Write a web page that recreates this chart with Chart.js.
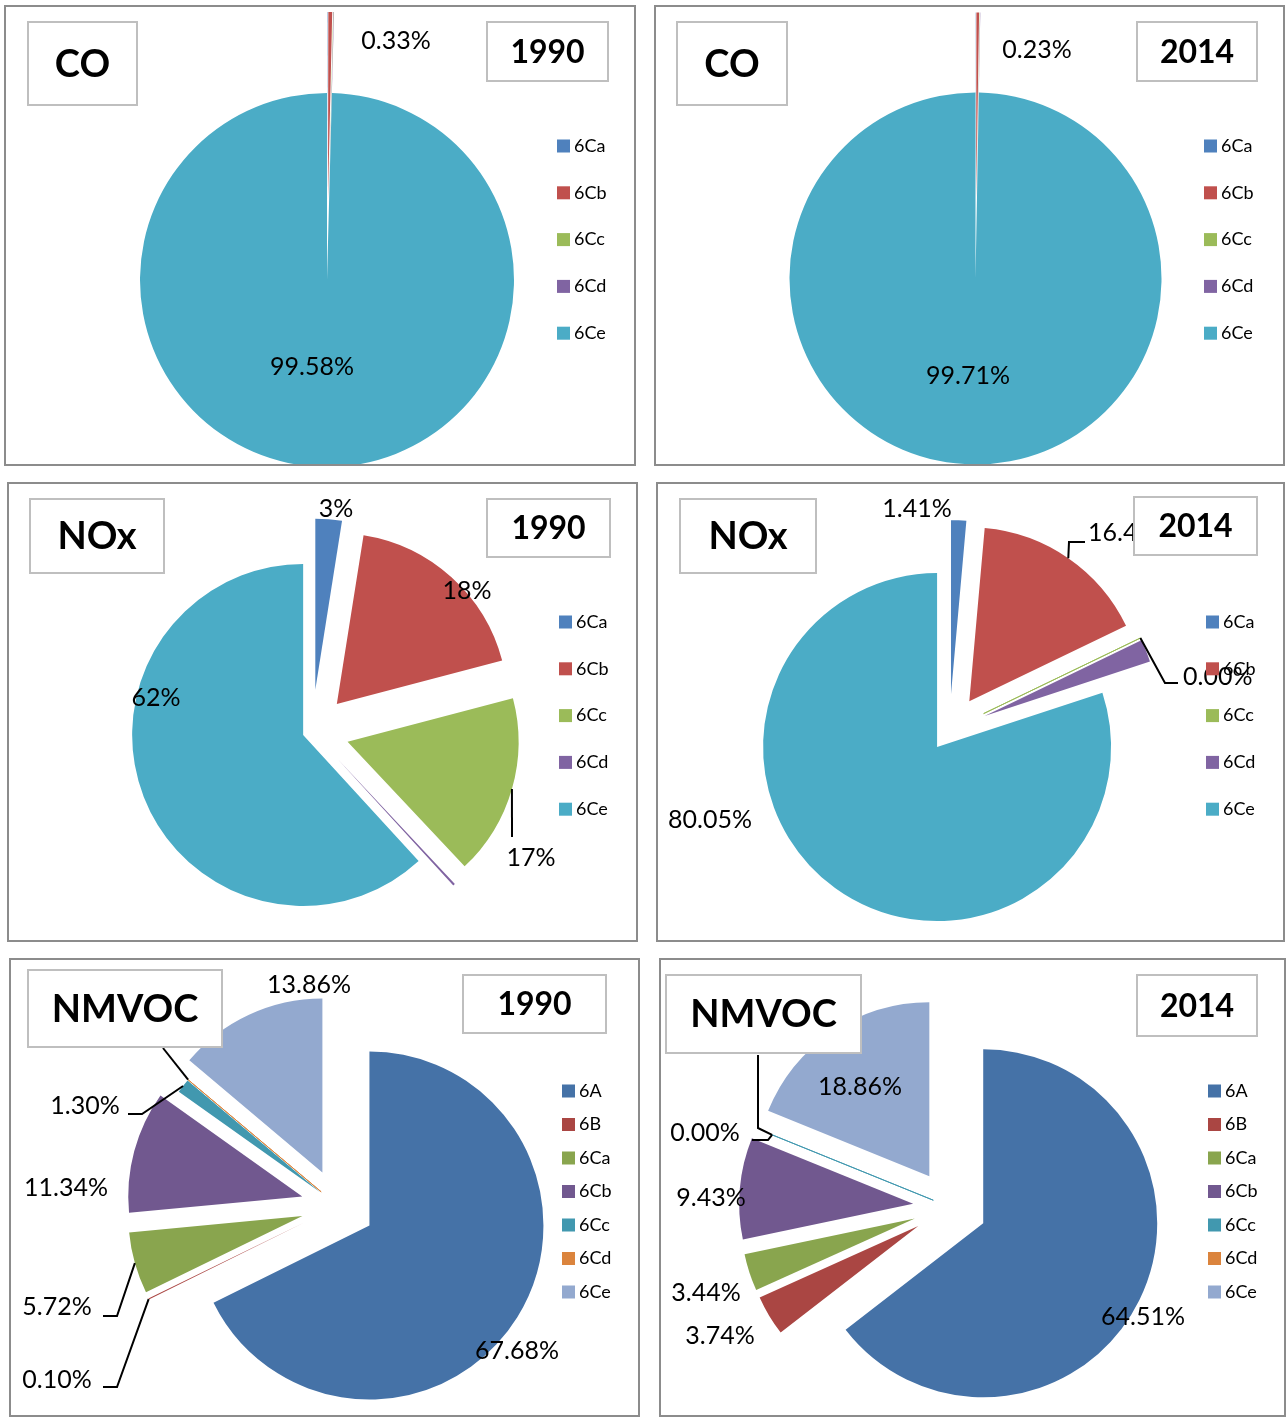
<!DOCTYPE html>
<html>
<head>
<meta charset="utf-8">
<title>CO, NOx and NMVOC by source, 1990 and 2014</title>
<script src="https://cdn.jsdelivr.net/npm/chart.js@4.4.1/dist/chart.umd.min.js"></script>
<style>
  body { margin: 0; background: #fff; }
  #wrap { position: relative; width: 1286px; height: 1417px; overflow: hidden; }
  canvas { position: absolute; }
</style>
</head>
<body>
<div id="wrap"></div>
<script>
// categories
const coCats = ["6Ca", "6Cb", "6Cc", "6Cd", "6Ce"];
const nmvocCats = ["6A", "6B", "6Ca", "6Cb", "6Cc", "6Cd", "6Ce"];

// shares in percent
const co1990 = [0.03, 0.33, 0.03, 0.03, 99.58];
const co2014 = [0.02, 0.23, 0.02, 0.02, 99.71];
const nox1990 = [2.5, 18.4, 17.1, 0.2, 61.8];
const nox2014 = [1.41, 16.44, 0.001, 2.10, 80.05];
const nmvoc1990 = [67.68, 0.10, 5.72, 11.34, 1.30, 0.001, 13.86];
const nmvoc2014 = [64.51, 3.74, 3.44, 9.43, 0.004, 0.001, 18.86];

const officeColors = ["#4F81BD", "#C0504D", "#9BBB59", "#8064A2", "#4BACC6"];
const nmvocColors = ["#4572A7", "#AA4643", "#89A54E", "#71588F", "#4198AF", "#DB843D", "#93A9CF"];

const FONT = "Lato, 'Open Sans', sans-serif";

// layout of each panel (page coordinates)
const panels = [
  {
    box: [4, 5, 632, 461], cats: coCats, values: co1990, colors: officeColors,
    center: [327, 280], radius: 187, explode: [81, 81, 81, 81, 0], thin: [], decimals: 2,
    labels: [{ i: 1, at: [396, 41] }, { i: 4, at: [312, 367] }],
    titles: [["CO", [28, 22, 137, 105], 38], ["1990", [487, 22, 608, 81], 32]],
    legend: [557, 146, 46.8],
  },
  {
    box: [654, 5, 631, 461], cats: coCats, values: co2014, colors: officeColors,
    center: [975.5, 278.5], radius: 186, explode: [80, 80, 80, 80, 0], thin: [], decimals: 2,
    labels: [{ i: 1, at: [1037, 50] }, { i: 4, at: [968, 376] }],
    titles: [["CO", [677, 22, 787, 105], 38], ["2014", [1137, 22, 1257, 81], 32]],
    legend: [1204, 146, 46.8],
  },
  {
    box: [7, 482, 631, 460], cats: coCats, values: nox1990, colors: officeColors,
    center: [312, 731.5], radius: 171, explode: [42, 37, 37, 38, 9.5], thin: [], decimals: 0,
    labels: [
      { i: 0, at: [336, 509] },
      { i: 1, at: [467, 591] },
      { i: 2, at: [531, 858], leader: [[512, 837]] },
      { i: 4, at: [156, 698] },
    ],
    titles: [["NOx", [30, 499, 164, 573], 38], ["1990", [487, 499, 610, 557], 32]],
    legend: [559, 622, 46.8],
  },
  {
    box: [656, 482, 629, 460], cats: coCats, values: nox2014, colors: officeColors,
    center: [949.4, 730.1], radius: 174, explode: [36, 35, 38, 38, 21], thin: [2], decimals: 2,
    labels: [
      { i: 0, at: [917, 509] },
      { i: 1, at: [1088, 533], align: "left", leader: [[1069, 542], [1085, 542]] },
      { i: 2, at: [1183, 677], align: "left", leader: [[1165, 683], [1178, 683]] },
      { i: 4, at: [710, 820] },
    ],
    titles: [["NOx", [680, 499, 816, 573], 38], ["2014", [1134, 497, 1257, 555], 32]],
    legend: [1206, 622, 46.8],
  },
  {
    box: [9, 958, 631, 459], cats: nmvocCats, values: nmvoc1990, colors: nmvocColors,
    center: [338, 1206], radius: 174, explode: [37, 37, 37, 37, 22, 22, 37], thin: [5], decimals: 2,
    labels: [
      { i: 6, at: [309, 985] },
      { i: 5, hidden: true, leader: [[163, 1048]] },
      { i: 4, at: [85, 1106], leader: [[142, 1114], [128, 1114]] },
      { i: 3, at: [66, 1188] },
      { i: 2, at: [57, 1307], leader: [[117, 1316], [103, 1316]] },
      { i: 1, at: [57, 1380], leader: [[117, 1387], [103, 1387]] },
      { i: 0, at: [517, 1351] },
    ],
    titles: [["NMVOC", [28, 970, 222, 1047], 38], ["1990", [463, 975, 606, 1033], 32]],
    legend: [562, 1091, 33.5],
  },
  {
    box: [659, 958, 627, 459], cats: nmvocCats, values: nmvoc2014, colors: nmvocColors,
    center: [950, 1207], radius: 174, explode: [37, 37, 37, 37, 18, 18, 37], thin: [4], decimals: 2,
    labels: [
      { i: 6, at: [860, 1087] },
      { i: 5, hidden: true, leader: [[758, 1128], [758, 1055]] },
      { i: 4, at: [705, 1133], leader: [[768, 1140], [752, 1140]] },
      { i: 3, at: [711, 1198] },
      { i: 2, at: [706, 1293] },
      { i: 1, at: [720, 1336] },
      { i: 0, at: [1143, 1317] },
    ],
    titles: [["NMVOC", [666, 975, 861, 1053], 38], ["2014", [1137, 975, 1257, 1036], 32]],
    legend: [1208, 1091, 33.5],
  },
];

function makePlugin(p) {
  const ox = p.box[0];
  const oy = p.box[1];
  return {
    id: "panelDeco",
    // draw the slices pulled out from the centre
    beforeDatasetDraw(chart, args) {
      const ctx = chart.ctx;
      args.meta.data.forEach((arc, i) => {
        const mid = (arc.startAngle + arc.endAngle) / 2;
        const d = p.explode[i];
        ctx.save();
        ctx.translate(Math.cos(mid) * d, Math.sin(mid) * d);
        arc.draw(ctx);
        ctx.restore();
      });
      return false;
    },
    afterDraw(chart) {
      const ctx = chart.ctx;
      const arcs = chart.getDatasetMeta(0).data;

      // leader lines + data labels (values are already shares in %)
      p.labels.forEach((lb) => {
        if (lb.leader) {
          const arc = arcs[lb.i];
          const mid = (arc.startAngle + arc.endAngle) / 2;
          const r = arc.outerRadius + p.explode[lb.i];
          ctx.beginPath();
          ctx.moveTo(arc.x + Math.cos(mid) * r, arc.y + Math.sin(mid) * r);
          lb.leader.forEach((pt) => ctx.lineTo(pt[0] - ox, pt[1] - oy));
          ctx.strokeStyle = "#000";
          ctx.lineWidth = 2;
          ctx.stroke();
        }
        if (lb.hidden) return;
        const pct = p.values[lb.i].toFixed(p.decimals) + "%";
        ctx.font = "25px " + FONT;
        ctx.fillStyle = "#000";
        ctx.textAlign = lb.align || "center";
        ctx.textBaseline = "middle";
        ctx.fillText(pct, lb.at[0] - ox, lb.at[1] - oy);
      });

      // title boxes
      p.titles.forEach((t) => {
        const [x1, y1, x2, y2] = t[1];
        ctx.fillStyle = "#fff";
        ctx.fillRect(x1 - ox, y1 - oy, x2 - x1, y2 - y1);
        ctx.strokeStyle = "#bfbfbf";
        ctx.lineWidth = 2;
        ctx.strokeRect(x1 - ox, y1 - oy, x2 - x1, y2 - y1);
        ctx.font = "bold " + t[2] + "px " + FONT;
        ctx.fillStyle = "#000";
        ctx.textAlign = "center";
        ctx.textBaseline = "middle";
        ctx.fillText(t[0], (x1 + x2) / 2 - ox, (y1 + y2) / 2 - oy + 1);
      });

      // legend
      const [lx, ly, step] = p.legend;
      p.cats.forEach((c, i) => {
        const y = ly + i * step - oy;
        ctx.fillStyle = p.colors[i];
        ctx.fillRect(lx - ox, y - 6.5, 13, 13);
        ctx.font = "18px " + FONT;
        ctx.fillStyle = "#000";
        ctx.textAlign = "left";
        ctx.textBaseline = "middle";
        ctx.fillText(c, lx + 17 - ox, y);
      });

      // panel frame
      ctx.strokeStyle = "#8c8c8c";
      ctx.lineWidth = 2;
      ctx.strokeRect(1, 1, p.box[2] - 2, p.box[3] - 2);
    },
  };
}

const wrap = document.getElementById("wrap");
panels.forEach((p) => {
  const [bx, by, bw, bh] = p.box;
  const canvas = document.createElement("canvas");
  canvas.width = bw;
  canvas.height = bh;
  canvas.style.left = bx + "px";
  canvas.style.top = by + "px";
  wrap.appendChild(canvas);

  const cx = p.center[0] - bx;
  const cy = p.center[1] - by;
  const s = Math.min(cx, bw - cx, cy, bh - cy) - 2;

  new Chart(canvas, {
    type: "pie",
    data: {
      labels: p.cats,
      datasets: [
        {
          data: p.values,
          backgroundColor: p.colors,
          borderColor: p.colors,
          borderWidth: p.cats.map((c, i) => (p.thin.includes(i) ? 1 : 0)),
          hoverOffset: 0,
          offset: 0,
          clip: false,
        },
      ],
    },
    options: {
      responsive: false,
      animation: false,
      events: [],
      radius: p.radius,
      layout: {
        padding: { left: cx - s, right: bw - cx - s, top: cy - s, bottom: bh - cy - s },
      },
      plugins: {
        legend: { display: false },
        tooltip: { enabled: false },
      },
    },
    plugins: [makePlugin(p)],
  });
});
</script>
</body>
</html>
